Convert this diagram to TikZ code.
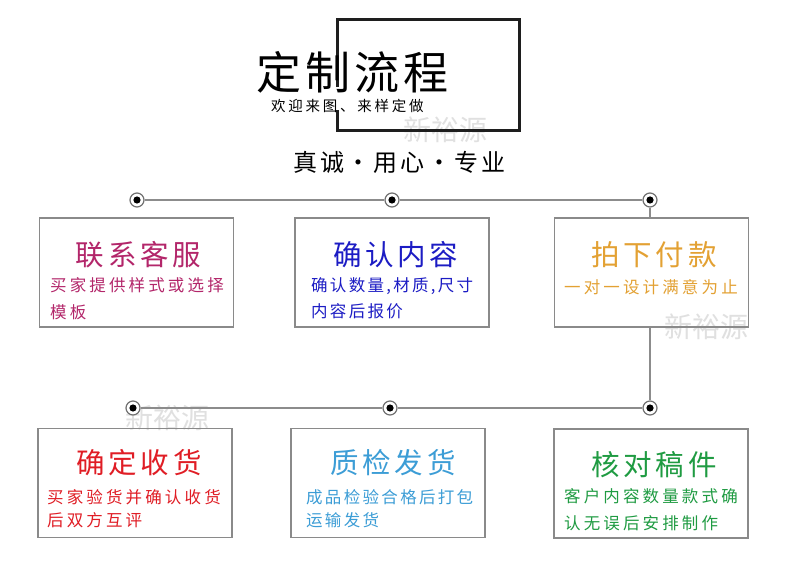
\documentclass[tikz,border=0pt]{standalone}
\usepackage{fontspec}
\setmainfont{Noto Sans CJK SC}
\newfontfamily\cjkhead{Noto Sans CJK SC}[LetterSpace=9]
\newfontfamily\cjkmotto{Noto Sans CJK SC}[LetterSpace=12]
\newfontfamily\cjktitle{Noto Sans CJK SC}[LetterSpace=13]
\newfontfamily\cjksub{Noto Sans CJK SC}[LetterSpace=19]
\newfontfamily\cjksubn{Noto Sans CJK SC}[LetterSpace=14]
\usetikzlibrary{positioning}
\definecolor{FrameInk}{HTML}{1E1E1E}
\definecolor{LineGray}{HTML}{8C8C8C}
\definecolor{BoxGray}{HTML}{8A8A8A}
\definecolor{MarkGray}{HTML}{E0E0E0}
\definecolor{StepRose}{HTML}{B3266A}
\definecolor{StepBlue}{HTML}{1C1CC4}
\definecolor{StepOrange}{HTML}{E3A133}
\definecolor{StepRed}{HTML}{E01D25}
\definecolor{StepSky}{HTML}{3C9DD6}
\definecolor{StepGreen}{HTML}{1F9B42}

\begin{document}
\begin{tikzpicture}[x=1pt,y=-1pt,every node/.style={inner sep=0pt},frame/.style={draw=FrameInk,line width=3pt},link/.style={draw=LineGray,line width=1.5pt},stepbox/.style={draw=BoxGray,line width=1.4pt,minimum width=194pt,minimum height=109pt,inner sep=0pt},dot/.style={circle,draw=LineGray!80!black,fill=white,line width=1.2pt,minimum size=14pt,inner sep=0pt,path picture={\fill[black] (path picture bounding box.center) circle (3.6pt);}},title/.style={font=\cjktitle\fontsize{28.5}{32}\selectfont,xshift=2pt},sub/.style={font=\cjksub\fontsize{16.5}{27}\selectfont,align=left,anchor=west},wmark/.style={text=MarkGray,font=\fontsize{28}{30}\selectfont}]
\useasboundingbox (0,0) rectangle (790,569);
\fill[white] (0,0) rectangle (790,569);
% watermarks
\node[wmark] (wm1) at (445,130) {新裕源};
\node[wmark] (wm2) at (706,327) {新裕源};
\node[wmark] (wm3) at (167,418) {新裕源};
% heading
\draw[frame] (337,87)--(337,20)--(519,20)--(519,131)--(337,131)--(337,110);
\node[anchor=west,font=\cjkhead\fontsize{45}{48}\selectfont] (head) at (256,72) {定制流程};
\node[anchor=west,font=\cjksub\fontsize{14.5}{16}\selectfont] (welcome) at (271,106) {欢迎来图、来样定做};
\node[anchor=west,font=\cjkmotto\fontsize{24}{26}\selectfont] (motto) at (293,162) {真诚・用心・专业};
% steps
\node[stepbox] (kefu) at (136.5,272.5) {};
\node[stepbox] (neirong) at (392,272.5) {};
\node[stepbox] (fukuan) at (651.5,272.5) {};
\node[stepbox] (shouhuo) at (135,483) {};
\node[stepbox] (fahuo) at (388,483) {};
\node[stepbox] (hedui) at (651,483.5) {};
\node[dot] (p1) at (137,200) {}; \node[dot] (p2) at (392,200) {}; \node[dot] (p3) at (650,200) {};
\node[dot] (p4) at (133,408) {}; \node[dot] (p5) at (390,408) {}; \node[dot] (p6) at (650,408) {};
\draw[link] (p1)--(p2)--(p3); \draw[link] (p3)--(p3|-fukuan.north);
\draw[link] (p6|-fukuan.south)--(p6); \draw[link] (p6)--(p5)--(p4);
% texts
\node[title,text=StepRose] (kefu-t) at (136.5,255) {联系客服};
\node[sub,text=StepRose] (kefu-s) at (50,298.5) {买家提供样式或选择\\模板};
\node[title,text=StepBlue,font=\cjkmotto\fontsize{28.5}{32}\selectfont] (neirong-t) at (394,255) {确认内容};
\node[sub,text=StepBlue,font=\cjksubn\fontsize{16.5}{26}\selectfont] (neirong-s) at (311,298) {确认数量,材质,尺寸\\内容后报价};
\node[title,text=StepOrange] (fukuan-t) at (652,255) {拍下付款};
\node[sub,text=StepOrange] (fukuan-s) at (564,287) {一对一设计满意为止};
\node[title,text=StepRed] (shouhuo-t) at (137,463) {确定收货};
\node[sub,text=StepRed,font=\cjksub\fontsize{16.5}{23}\selectfont] (shouhuo-s) at (47,509) {买家验货并确认收货\\后双方互评};
\node[title,text=StepSky] (fahuo-t) at (391,463) {质检发货};
\node[sub,text=StepSky,font=\cjksubn\fontsize{16.5}{23}\selectfont] (fahuo-s) at (306,509) {成品检验合格后打包\\运输发货};
\node[title,text=StepGreen] (hedui-t) at (652,465) {核对稿件};
\node[sub,text=StepGreen] (hedui-s) at (564,510) {客户内容数量款式确\\认无误后安排制作};
\end{tikzpicture}
\end{document}
